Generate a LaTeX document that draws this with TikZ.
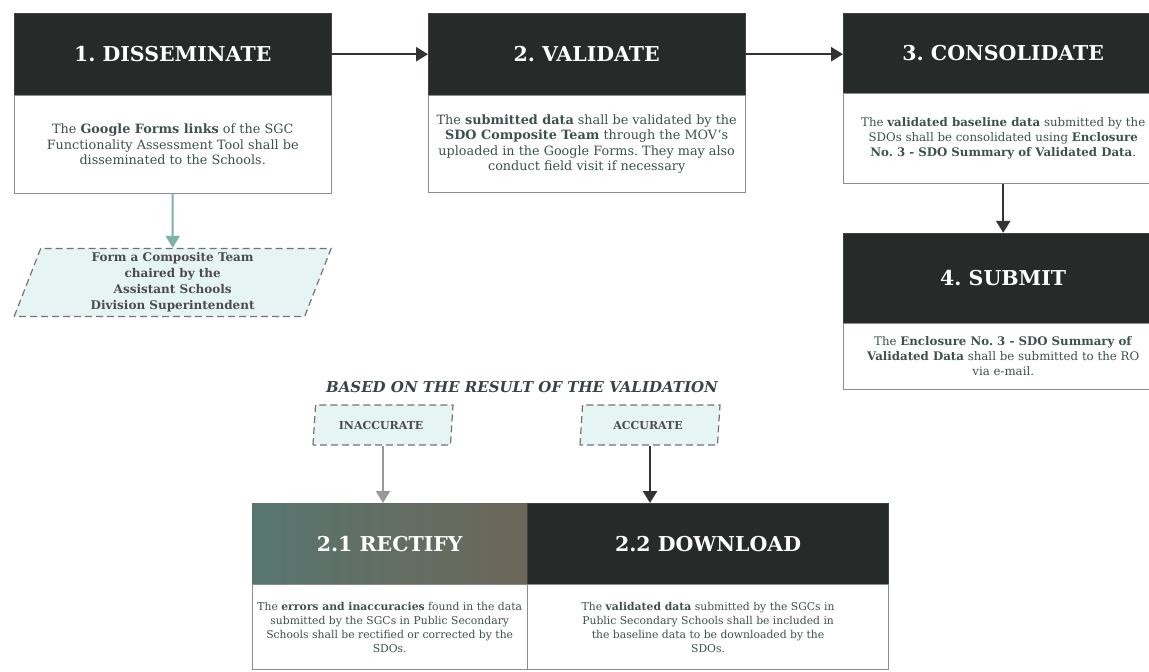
\documentclass[tikz,border=0pt]{standalone}
\usepackage{fontspec}
\setmainfont{DejaVu Serif}
\usetikzlibrary{positioning,shapes.geometric,arrows.meta}
\definecolor{headfill}{HTML}{262A28}
\definecolor{bodytext}{HTML}{3E514E}
\definecolor{linkgreen}{HTML}{7DB3A5}
\definecolor{paperfill}{HTML}{E6F4F4}
\definecolor{titlegray}{HTML}{3A4446}
\frenchspacing

\begin{document}
\begin{tikzpicture}[x = 1pt, y = -1pt,
    head/.style = { draw = black!75, fill = headfill, text = white, inner sep = 0pt,
                    minimum height = 82pt, font = \fontsize{20.5}{24}\selectfont\bfseries },
    body/.style = { draw = black!45, fill = white, text = bodytext, align = center,
                    inner sep = 0pt, font = \fontsize{12.8}{15.5}\selectfont },
    slant/.style = { draw = black!55, dash pattern = on 7pt off 4pt, line width = 1.2pt,
                     fill = paperfill, trapezium, trapezium stretches body = true, inner sep = 0pt,
                     align = center, text = black!70, font = \fontsize{12}{16}\selectfont\bfseries },
    flow/.style = { line width = 2.5pt, draw = black!80, -{Triangle[width = 14pt, length = 12pt]} }]

    \useasboundingbox (0,0) rectangle (1149,672);

    % top row
    \node [head, minimum width = 317pt, anchor = north west] (dis) at (14,13) { 1. DISSEMINATE };
    \node [body, minimum width = 317pt, minimum height = 98pt, below = 0pt of dis] (disb)
      { The \textbf{Google Forms links} of the SGC\\ Functionality Assessment Tool shall be\\ disseminated to the Schools. };
    \node [head, minimum width = 317pt, anchor = north west] (val) at (428,13) { 2. VALIDATE };
    \node [body, minimum width = 317pt, minimum height = 97pt, below = 0pt of val] (valb)
      { The \textbf{submitted data} shall be validated by the\\ \textbf{SDO Composite Team} through the MOV's\\
        uploaded in the Google Forms. They may also\\ conduct field visit if necessary };
    \node [head, minimum width = 320pt, minimum height = 80pt, anchor = north west] (con) at (843,13) { 3. CONSOLIDATE };
    \node [body, font = \fontsize{11.8}{15}\selectfont, minimum width = 320pt, minimum height = 90pt,
           below = 0pt of con] (conb)
      { The \textbf{validated baseline data} submitted by the\\ SDOs shall be consolidated using \textbf{Enclosure}\\
        \textbf{No. 3 - SDO Summary of Validated Data}. };
    \node [head, minimum width = 320pt, minimum height = 90pt, below = 49pt of conb] (sub) { 4. SUBMIT };
    \node [body, font = \fontsize{11.8}{15}\selectfont, minimum width = 320pt, minimum height = 66pt,
           below = 0pt of sub] (subb)
      { The \textbf{Enclosure No. 3 - SDO Summary of}\\ \textbf{Validated Data} shall be submitted to the RO\\ via e-mail. };

    \node [slant, trapezium left angle = 66, trapezium right angle = 114, minimum width = 317pt,
           minimum height = 68pt, below = 54pt of disb] (team)
      { Form a Composite Team\\ chaired by the\\ Assistant Schools\\ Division Superintendent };

    % validation result
    \node [text = titlegray, font = \fontsize{15}{18}\selectfont\bfseries\itshape] (basis) at (522,387)
      { BASED ON THE RESULT OF THE VALIDATION };
    \node [slant, font = \fontsize{11}{14}\selectfont\bfseries, trapezium left angle = 73,
           trapezium right angle = 107, minimum width = 140pt, minimum height = 40pt] (inacc) at (383,425) { INACCURATE };
    \node [slant, font = \fontsize{11}{14}\selectfont\bfseries, trapezium left angle = 73,
           trapezium right angle = 107, minimum width = 140pt, minimum height = 40pt] (acc) at (650,425) { ACCURATE };

    \node [head, draw = none, left color = {rgb,255:red,88;green,118;blue,112},
           right color = {rgb,255:red,108;green,102;blue,88}, minimum width = 275pt, minimum height = 81pt,
           anchor = north west] (rect) at (252,503) { 2.1 RECTIFY };
    \node [head, minimum width = 361pt, minimum height = 81pt, right = 0pt of rect] (down) { 2.2 DOWNLOAD };
    \node [body, font = \fontsize{10.8}{14}\selectfont, minimum width = 275pt, minimum height = 85pt,
           below = 0pt of rect] (rectb)
      { The \textbf{errors and inaccuracies} found in the data\\ submitted by the SGCs in Public Secondary\\
        Schools shall be rectified or corrected by the\\ SDOs. };
    \node [body, font = \fontsize{10.8}{14}\selectfont, minimum width = 361pt, minimum height = 85pt,
           below = 0pt of down] (downb)
      { The \textbf{validated data} submitted by the SGCs in\\ Public Secondary Schools shall be included in\\
        the baseline data to  be downloaded by the\\ SDOs. };

    % connectors
    \draw [flow] (dis) -- (val);
    \draw [flow] (val.east) -- (val.east -| con.west);
    \draw [flow] (conb) -- (sub);
    \draw [flow, draw = linkgreen, line width = 2pt] (disb) -- (team);
    \draw [flow, draw = black!40, line width = 2pt] (inacc.south) -- (inacc.south |- rect.north);
    \draw [flow] (acc.south) -- (acc.south |- down.north);

\end{tikzpicture}
\end{document}
